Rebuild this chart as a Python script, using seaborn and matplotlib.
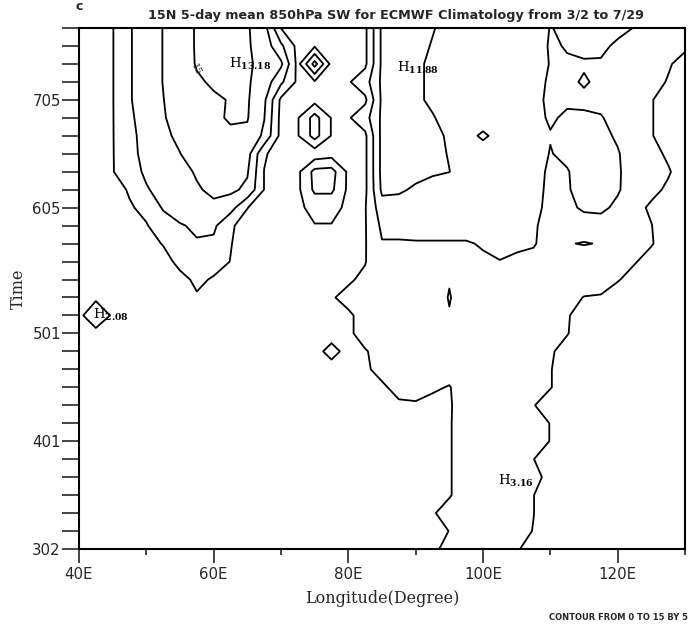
import numpy as np
import seaborn as sns
import matplotlib
matplotlib.use('Agg')
from matplotlib import pyplot as plt
from matplotlib.ticker import MultipleLocator

sns.set_style('white')
plt.rcParams['font.family'] = ['DejaVu Sans']
plt.rcParams['mathtext.fontset'] = 'dejavuserif'

# longitude of each grid column (degrees east) and pentad index of each row
lons = [40, 42.5, 45, 47.5, 50, 52.5, 55, 57.5, 60, 62.5, 65, 67.5, 70, 72.5,
        75, 77.5, 80, 82.5, 85, 87.5, 90, 92.5, 95, 97.5, 100, 102.5, 105,
        107.5, 110, 112.5, 115, 117.5, 120, 122.5, 125, 127.5, 130]
pentads = list(range(30))
time_ticks = [0, 6, 12, 19, 25]
time_labels = ['302', '401', '501', '605', '705']
lon_ticks = [40, 60, 80, 100, 120]
lon_labels = ['40E', '60E', '80E', '100E', '120E']
levels = [0, 5, 10, 15]

# 850hPa SW, one row per pentad (3/2 at the bottom)
sw = [
    [-3]*20 + [-2, -1, 1.5, 2, 2.5, 2.5, 0.5, -2] + [-3]*9,
    [-3]*20 + [-2.5, -2, 0.1, 2, 2.5, 2.5, 2, -0.2] + [-3]*9,
    [-3]*20 + [-2, -0.5, 2, 2.5, 3, 3, 2.5, 0.1] + [-3]*9,
    [-3]*20 + [-2.5, -2, -0.4, 2.5, 3, 3, 2.5, 0.1] + [-3]*9,
    [-3]*20 + [-2.5, -2, -0.4, 2.5, 3, 3.16, 2.5, 1.5, -1.5] + [-3]*8,
    [-3]*20 + [-2.5, -2, -0.4, 2.5, 2.8, 3, 2, 0.1] + [-3]*9,
    [-3]*20 + [-2.5, -2, -0.4, 2.5, 2.8, 2.8, 2.5, 1.5, -0.1] + [-3]*8,
    [-3]*20 + [-2.5, -2, -0.4, 2.5, 2.5, 2.5, 2.5, 1.5, -0.1] + [-3]*8,
    [-3]*18 + [-2, -0.5, -0.3, -1, -0.4, 2, 2.5, 2.5, 2, 0.3] + [-3]*9,
    [-3]*17 + [-2, -0.5, 1, 1, 0.5, -0.2, 2, 2.5, 2.5, 2, 1.5, 0.3] + [-3]*8,
    [-3]*15 + [-1.8, -2, -0.5, 1, 1.5, 2, 2, 1.5, 2, 2, 2, 2, 1.5, 0.2, -2] + [-3]*7,
    [-3]*14 + [-1.5, 1.5, -1.5, -0.2, 1, 2, 2.5, 2.5, 2, 2.5, 2.5, 2.5, 2.5, 2,
               0.5, -1.5] + [-3]*7,
    [-2, -0.9] + [-3]*13 + [-1.8, -0.5, 1.1, 2, 2.5, 3, 3, 2.5, 3, 3, 3, 3, 2.5,
                            1.5, 0.2, -2] + [-3]*6,
    [-0.7, 2.08, -0.4, -2] + [-3]*12 + [-0.5, 1.1, 2, 2.5, 3, 3.5, 4.6, 3.5, 3, 3,
                                        3, 2.5, 1.5, 0.4, -2] + [-3]*6,
    [-2, -0.52, -3, -3, -3, -3, -2.5, -0.5, -2, -3, -3, -3, -3, -3, -2, -0.3, 1, 2,
     2.5, 3, 3, 1.4, 5.4, 1.4, 3, 3, 3, 3, 2.5, 1, -0.1, -0.3, -2, -3, -3, -3, -3],
    [-2.5, -2, -2, -2.5, -2.5, -2.5, -1.5, 1, -0.5, -2, -2.5, -2.5, -2.5, -2.5, -2,
     -1.5, -0.5, 0.8, 2.5, 3, 3.5, 3.5, 4.6, 3.5, 3.5, 3.5, 3.5, 3.5, 3, 2.5, 1.5,
     1.5, 0.3, -1.5, -3, -3, -3],
    [-2.5, -2, -2, -2.5, -2.5, -2, 1.5, 3, 2, -0.1, -2, -2.5, -2.5, -2.5, -2, -2,
     -1.5, -0.2, 3.5, 4, 4, 4, 4, 4, 4.5, 4.9, 4, 4, 3.5, 3, 2, 2.5, 2, 0.3, -1.5,
     -3, -3],
    [-2.5, -2, -2, -2.5, -2, 0.3, 3, 4.5, 4, 0.2, -2, -2.5, -2.5, -2.5, -2, -2, -2,
     -0.3, 4.7, 4.7, 4.7, 4.7, 4.7, 4.7, 5.3, 6, 6, 5.3, 3.5, 4.7, 5.3, 4.7, 3, 1.5,
     0.3, -2, -3],
    [-2.5, -2, -2, -2, -0.3, 2.5, 4.5, 6, 6, 0.5, -1.5, -2.5, -2.5, -2, -0.2, -0.2,
     -2, -0.3, 6, 6, 6.5, 6.5, 6.5, 6.5, 6.5, 7, 6.5, 5.5, 3.5, 3, 2, 3, 2.5, 1.5,
     0.1, -2, -3],
    [-2.5, -2, -1.5, -0.5, 1.2, 5.5, 8, 9, 9, 7, 0.1, -2, -2.5, -1, 1.5, 1.5, -1,
     -0.3, 8, 8.5, 8.5, 8, 7.5, 7.5, 7.5, 7.5, 7, 6, 4, 3.5, 6, 6, 4, 1, -0.5, -2,
     -3],
    [-2.5, -2, -2, 0.5, 4.5, 7, 8.5, 9.5, 11, 11, 9, -0.1, -2, -1, 6, 6, -1, -1, 11,
     10.5, 9.5, 8.5, 8, 8, 8, 8, 7.5, 6.5, 4, 4.5, 7, 7, 5.5, 2.5, 0.8, -0.5, -2],
    [-2.5, -1.5, -0.2, 2.5, 6, 7.5, 8.5, 10.5, 12, 12, 10.5, -0.1, -2, -1, 6.5, 7,
     -1, -1, 11.5, 11.5, 11, 10.5, 10.05, 8.5, 8.5, 8, 7.5, 6.5, 4.3, 4.7, 7, 7,
     5.5, 3, 1.5, 0.3, -1.5],
    [-2.5, -1.5, -0.2, 3, 7, 8.5, 9.9, 12.5, 13, 13.5, 12, 0.5, -2, -2, -3, -2,
     -1.5, -1, 11.5, 11.5, 11.5, 11, 9.8, 8.5, 8.8, 8, 7.5, 7, 4.8, 6, 7, 7, 5.3, 3,
     1, -0.5, -2],
    [-2.5, -1.5, -0.2, 3.5, 7, 9, 11, 13, 14, 14.5, 14, 9, -1.5, -0.3, 7, -0.3,
     -1.5, -1, 11.5, 11.5, 11.5, 11, 9.5, 9.2, 10.4, 9.2, 8, 7, 5.2, 6.5, 6.5, 6,
     4.5, 3, 0.2, -1.5, -2.5],
    [-2.5, -1.5, -0.2, 4, 7.5, 9.7, 11.5, 13.5, 14.5, 15.3, 15.3, 10.2, -1.5, -0.3,
     7, -0.3, -0.5, 3, 11, 11.5, 11, 10.2, 9, 8.8, 8.8, 8.5, 7.5, 6, 4.6, 5.5, 5.6,
     5.2, 4, 2.5, 0.2, -1.5, -2.5],
    [-2.5, -1.5, -0.2, 4.5, 8, 9.9, 12, 14, 14.5, 15.2, 15.5, 11, -1, -1, -1.75,
     -1, -1.5, -1, 11, 11.5, 10.5, 9.5, 8.5, 8.5, 8.5, 8, 7.5, 6, 4.3, 4.5, 4.2,
     4.2, 3.5, 2.5, 0.2, -1.5, -2.5],
    [-2.5, -1.5, -0.2, 4.5, 8, 10.1, 13, 14.5, 15.5, 15.5, 15.5, 13, 6, -1, -0.5,
     -1, -0.5, 3, 11, 11.5, 10.5, 9.5, 8.5, 8, 8, 7.5, 7, 6, 4.6, 4.2, 5.4, 4.2,
     3.5, 2.5, 1, -0.2, -1.5],
    [-2.5, -1.5, -0.2, 4.5, 8, 10.1, 13, 15.3, 16, 16, 15.5, 14, 11, -1.6, 12,
     -1.6, -1.5, -1, 11, 11.88, 10.5, 9.5, 8.5, 8, 8, 7.5, 7, 7, 4.8, 4.7, 4.6, 4.7,
     4.3, 3, 1.5, 0.3, -1],
    [-2.5, -1.5, -0.2, 4.5, 8, 10.1, 13.5, 15.3, 16, 16, 15.5, 13, 6, -1.5, -0.5,
     -1.5, -1.5, -1, 11, 11.5, 11, 9.8, 8.5, 8, 8, 7.5, 7.5, 7, 4.6, 5.2, 6, 5.6,
     4.5, 3.5, 2.5, 1.5, 0.5],
    [-2.5, -1.5, -0.2, 4.5, 8, 10.1, 13.5, 15.3, 16, 16, 15.5, 12, -0.1, -1.5,
     -1.5, -1.5, -1.5, -1, 11, 11.5, 11, 10.2, 9, 8, 8, 7.5, 7.5, 6.5, 4.9, 5.5, 6,
     6, 5.8, 4.9, 3, 1.5, 0.5],
]

# local maxima printed on the map
high_labels = ['13.18', '11.88', '3.16', '2.08']
high_lon = [62.3, 87.2, 102.2, 42.1]
high_time = [27.0, 26.8, 3.8, 13.0]

fig = plt.figure(figsize=(6.95, 6.31), dpi=100)
ax = fig.add_axes([79 / 695, 82 / 631, 606 / 695, 521 / 631])
ax.contour(lons, pentads, np.array(sw), levels=levels, colors='black',
           linewidths=1.3)

for lab, x, y in zip(high_labels, high_lon, high_time):
    ax.text(x, y, 'H$_{\\mathbf{' + lab + '}}$', fontsize=9.5, ha='left',
            va='center', color='black', family='DejaVu Serif')
ax.text(57.3, 26.7, '15', fontsize=7, rotation=-65, ha='center', va='center',
        family='DejaVu Serif')

ax.set_xlim(40, 130)
ax.set_ylim(0, 29)
ax.set_xticks(lon_ticks)
ax.set_xticklabels(lon_labels)
ax.xaxis.set_minor_locator(MultipleLocator(10))
ax.set_yticks(time_ticks)
ax.set_yticklabels(time_labels)
ax.yaxis.set_minor_locator(MultipleLocator(1))
ax.tick_params(axis='x', which='major', direction='out', length=10, width=1.2,
               pad=3, labelsize=10.8, bottom=True)
ax.tick_params(axis='x', which='minor', direction='out', length=4, width=1.2,
               bottom=True)
ax.tick_params(axis='y', which='both', direction='out', length=12, width=1.2,
               pad=1, labelsize=10.8, left=True)
for sp in ax.spines.values():
    sp.set_linewidth(1.5)
    sp.set_color('black')

ax.set_xlabel('Longitude(Degree)', family='DejaVu Serif', fontsize=11.5,
              labelpad=6)
ax.set_ylabel('Time', family='DejaVu Serif', fontsize=11.5, labelpad=4)

fig.text(75 / 695, 1 - 6 / 631, 'c', fontsize=9, weight='bold', va='center')
fig.text(396 / 695, 1 - 15 / 631,
         '15N 5-day mean 850hPa SW for ECMWF Climatology from 3/2 to 7/29',
         ha='center', va='center', fontsize=9.2, weight='bold')
fig.text(688 / 695, 1 - 617 / 631, 'CONTOUR FROM 0 TO 15 BY 5', ha='right',
         va='center', fontsize=6, weight='bold')

fig.savefig('out.png', dpi=100)
